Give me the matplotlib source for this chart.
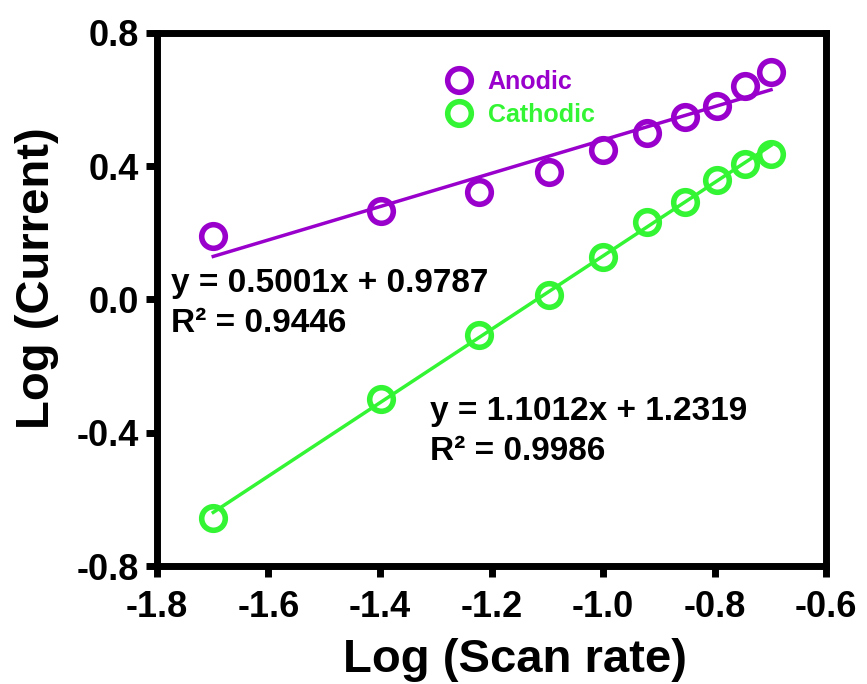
import matplotlib
matplotlib.use("Agg")
import matplotlib.pyplot as plt
import numpy as np

plt.rcParams['font.family'] = ['Liberation Sans', 'DejaVu Sans']
plt.rcParams['font.weight'] = 'bold'

log_scan = [-1.699, -1.398, -1.222, -1.097, -1.000, -0.921, -0.854, -0.796, -0.745, -0.699]
anodic = [0.191, 0.266, 0.323, 0.383, 0.449, 0.500, 0.548, 0.581, 0.641, 0.683]
cathodic = [-0.656, -0.298, -0.106, 0.014, 0.128, 0.233, 0.293, 0.359, 0.407, 0.437]
anodic_fit = (0.5001, 0.9787)
cathodic_fit = (1.1012, 1.2319)

purple = '#9900CC'
green = '#33F533'

fig = plt.figure(figsize=(8.67, 6.84), dpi=100)
ax = fig.add_axes([0.181, 0.1725, 0.772, 0.7795])

xs = np.array([min(log_scan), max(log_scan)])
ax.plot(xs, anodic_fit[0] * xs + anodic_fit[1], color=purple, lw=2.5, zorder=2)
ax.plot(xs, cathodic_fit[0] * xs + cathodic_fit[1], color=green, lw=2.5, zorder=2)
ax.plot(log_scan, anodic, 'o', mfc='none', mec=purple, mew=4, ms=17, label='Anodic', zorder=3)
ax.plot(log_scan, cathodic, 'o', mfc='none', mec=green, mew=4, ms=17, label='Cathodic', zorder=3)

ax.set_xlim(-1.8, -0.6)
ax.set_ylim(-0.8, 0.8)
ax.set_xticks([-1.8, -1.6, -1.4, -1.2, -1.0, -0.8, -0.6])
ax.set_yticks([-0.8, -0.4, 0.0, 0.4, 0.8])
ax.xaxis.set_major_formatter(matplotlib.ticker.FormatStrFormatter('%.1f'))
ax.yaxis.set_major_formatter(matplotlib.ticker.FormatStrFormatter('%.1f'))
for s in ax.spines.values():
    s.set_linewidth(5)
ax.tick_params(direction='out', length=8, width=5, labelsize=26, pad=5)
ax.tick_params(axis='x', pad=9)
for lab in ax.get_xticklabels() + ax.get_yticklabels():
    lab.set_fontweight('bold')

ax.set_xlabel('Log (Scan rate)', fontsize=34, fontweight='bold', labelpad=10)
ax.xaxis.set_label_coords(0.535, -0.135)
ax.set_ylabel('Log (Current)', fontsize=34, fontweight='bold', labelpad=6)
ax.yaxis.set_label_coords(-0.146, 0.54)

leg = ax.legend(loc='upper left', bbox_to_anchor=(0.395, 0.973), frameon=False,
                fontsize=18, handletextpad=0.55, labelspacing=0.38, handlelength=1.2)
for t, c in zip(leg.get_texts(), [purple, green]):
    t.set_color(c)
    t.set_fontweight('bold')

ax.text(-1.775, 0.095, 'y = 0.5001x + 0.9787\nR² = 0.9446', fontsize=24, fontweight='bold',
        va='top', ha='left', linespacing=1.38)
ax.text(-1.31, -0.29, 'y = 1.1012x + 1.2319\nR² = 0.9986', fontsize=24, fontweight='bold',
        va='top', ha='left', linespacing=1.38)

fig.savefig('out.png', dpi=100)
